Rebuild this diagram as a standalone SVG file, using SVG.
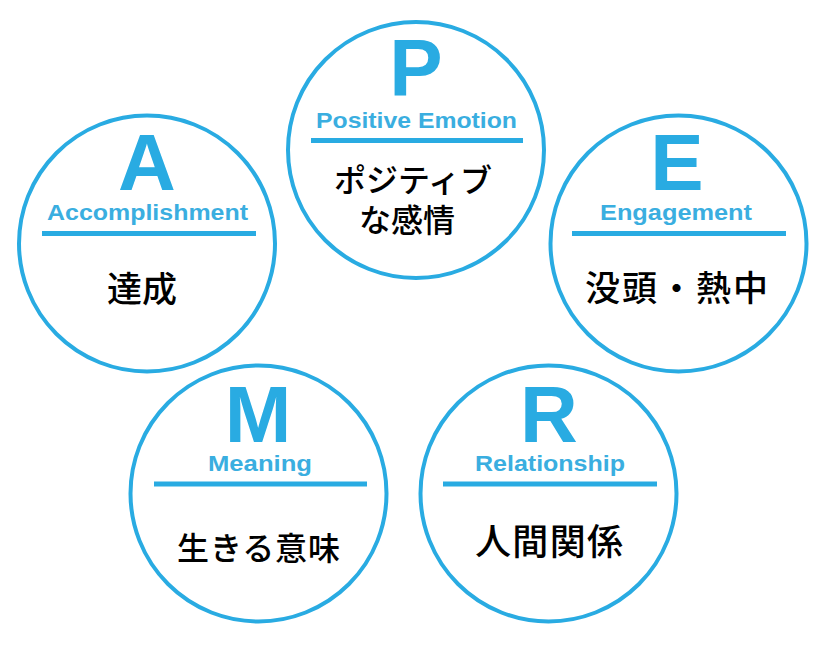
<svg xmlns="http://www.w3.org/2000/svg" width="817" height="646" viewBox="0 0 817 646">
<style>
.ring{fill:#ffffff;stroke:#29ABE2;stroke-width:4}
.bar{stroke:#29ABE2;stroke-width:5}
.big{font-family:"Liberation Sans",Arial,sans-serif;font-weight:bold;font-size:80px;fill:#29ABE2;text-anchor:middle}
.sub{font-family:"Liberation Sans",Arial,sans-serif;font-weight:bold;font-size:22.5px;fill:#3AAEE0;text-anchor:middle}
.jp{font-family:"Liberation Sans","Noto Sans CJK JP",sans-serif;font-weight:500;fill:#000000;text-anchor:middle}
</style>
<rect width="817" height="646" fill="#ffffff"/>
<g id="node-P">
<circle class="ring" cx="416" cy="150" r="128"/>
<text class="big" x="416" y="95">P</text>
<text class="sub" x="416.5" y="128" textLength="201" lengthAdjust="spacingAndGlyphs">Positive Emotion</text>
<line class="bar" x1="311" y1="140.5" x2="523" y2="140.5"/>
<text class="jp" x="413" y="192" font-size="32">ポジティブ</text>
<text class="jp" x="407" y="232" font-size="32">な感情</text>
</g>
<g id="node-A">
<circle class="ring" cx="147" cy="243.5" r="128"/>
<text class="big" x="147" y="190">A</text>
<text class="sub" x="147.5" y="220" textLength="201" lengthAdjust="spacingAndGlyphs">Accomplishment</text>
<line class="bar" x1="42" y1="233.5" x2="256" y2="233.5"/>
<text class="jp" x="142" y="301.5" font-size="35">達成</text>
</g>
<g id="node-E">
<circle class="ring" cx="678.5" cy="243.5" r="128"/>
<text class="big" x="677" y="190">E</text>
<text class="sub" x="676" y="220" textLength="152" lengthAdjust="spacingAndGlyphs">Engagement</text>
<line class="bar" x1="572" y1="233.5" x2="786" y2="233.5"/>
<text class="jp" x="676.5" y="300.5" font-size="35" textLength="183" lengthAdjust="spacing">没頭・熱中</text>
</g>
<g id="node-M">
<circle class="ring" cx="258.5" cy="493.5" r="128"/>
<text class="big" x="258" y="442">M</text>
<text class="sub" x="260" y="471" textLength="104" lengthAdjust="spacingAndGlyphs">Meaning</text>
<line class="bar" x1="154" y1="484" x2="367" y2="484"/>
<text class="jp" x="258.5" y="560" font-size="32" textLength="163" lengthAdjust="spacing">生きる意味</text>
</g>
<g id="node-R">
<circle class="ring" cx="548.5" cy="493.5" r="128"/>
<text class="big" x="549" y="442">R</text>
<text class="sub" x="550" y="471" textLength="150" lengthAdjust="spacingAndGlyphs">Relationship</text>
<line class="bar" x1="443" y1="484" x2="657" y2="484"/>
<text class="jp" x="549" y="554.5" font-size="36" textLength="148" lengthAdjust="spacing">人間関係</text>
</g>
</svg>
